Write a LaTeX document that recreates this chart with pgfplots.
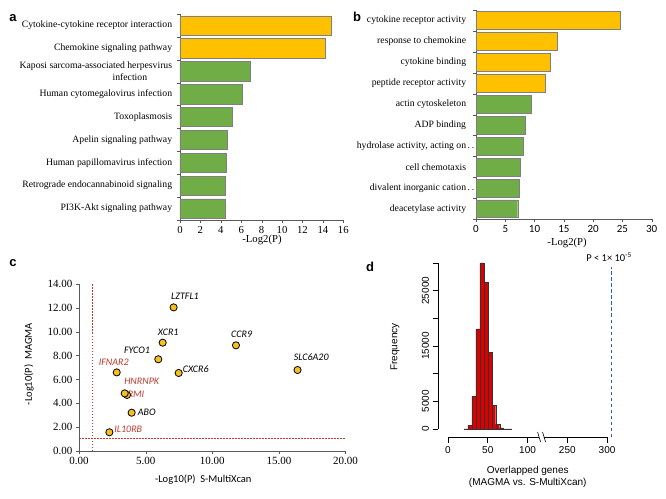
\documentclass[border=0pt]{standalone}
\usepackage{pgfplots}
\pgfplotsset{compat=1.18}
\usepackage{fontspec}
\setmainfont{Liberation Serif}
\newfontfamily\arial{Liberation Sans}
\newfontfamily\calibri{Carlito}
\definecolor{gold}{HTML}{FFC000}
\definecolor{grn}{HTML}{70AD47}
\definecolor{edge}{HTML}{7F7F7F}
\definecolor{dkred}{HTML}{C0392B}
\definecolor{ptfill}{HTML}{F5C01E}
\definecolor{histred}{HTML}{DD0000}
\definecolor{dblue}{HTML}{2563B0}
\begin{document}
\begin{tikzpicture}
% ---------- panel a ----------
\begin{axis}[
  at={(180pt,278pt)}, anchor=south west, scale only axis,
  width=163.3pt, height=206pt,
  xbar, bar width=19.3pt,
  xmin=0, xmax=16, ymin=0.5, ymax=9.5,
  axis x line=bottom, axis y line=left,
  axis line style={-, black!65},
  tick align=outside, major tick length=2.7pt, minor tick length=2.7pt,
  tick style={black!65},
  xtick={0,2,...,16},
  ytick={1,...,9}, major y tick style={draw=none},
  minor ytick={0.5,1.5,...,9.5},
  yticklabels={PI3K-Akt signaling pathway, Retrograde endocannabinoid signaling, Human papillomavirus infection, Apelin signaling pathway, Toxoplasmosis, Human cytomegalovirus infection, {Kaposi sarcoma-associated herpesvirus\\infection\hspace*{25pt}}, Chemokine signaling pathway, Cytokine-cytokine receptor interaction},
  yticklabel style={align=right, font=\fontsize{9.7}{11.7}\selectfont, inner sep=0pt, xshift=-5pt},
  xticklabel style={font=\fontsize{10.7}{12}\selectfont},
  /pgf/number format/assume math mode=true,
  xlabel={-Log2(P)},
  xlabel style={font=\fontsize{10.7}{12}\selectfont, at={(rel axis cs:0.502,-0.097)}, anchor=center},
  clip=false,
]
\addplot[fill=gold, draw=edge, bar shift=0pt] coordinates {(14.8,9) (14.2,8)};
\addplot[fill=grn, draw=edge, bar shift=0pt] coordinates {(6.86,7) (6.14,6) (5.16,5) (4.67,4) (4.57,3) (4.47,2) (4.45,1)};
\end{axis}
% ---------- panel b ----------
\begin{axis}[
  at={(476pt,278.7pt)}, anchor=south west, scale only axis,
  width=175.7pt, height=209.3pt,
  xbar, bar width=17.7pt,
  xmin=0, xmax=30, ymin=0.5, ymax=10.5,
  axis x line=bottom, axis y line=left,
  axis line style={-, black!65},
  tick align=outside, major tick length=2.7pt, minor tick length=2.7pt,
  tick style={black!65},
  xtick={0,5,...,30},
  ytick={1,...,10}, major y tick style={draw=none},
  minor ytick={0.5,1.5,...,10.5},
  yticklabels={deacetylase activity, divalent inorganic cation\rlap{\,.\,.}, cell chemotaxis, hydrolase activity{,} acting on\rlap{\,.\,.}, ADP binding, actin cytoskeleton, peptide receptor activity, cytokine binding, response to chemokine, cytokine receptor activity},
  yticklabel style={align=right, font=\fontsize{9.7}{11.7}\selectfont, inner sep=0pt, xshift=-7pt},
  xticklabel style={font=\calibri\fontsize{11}{12}\selectfont},
  /pgf/number format/assume math mode=true,
  xlabel={-Log2(P)},
  xlabel style={font=\fontsize{10.7}{12}\selectfont, at={(rel axis cs:0.5185,-0.114)}, anchor=center},
  clip=false,
]
\addplot[fill=gold, draw=edge, bar shift=0pt] coordinates {(24.7,10) (13.8,9) (12.75,8) (11.8,7)};
\addplot[fill=grn, draw=edge, bar shift=0pt] coordinates {(9.5,6) (8.37,5) (8.08,4) (7.63,3) (7.34,2) (7.12,1)};
\end{axis}
% ---------- panel c ----------
\begin{axis}[
  at={(79pt,47pt)}, anchor=south west, scale only axis,
  width=266.5pt, height=167pt,
  xmin=0, xmax=20, ymin=0, ymax=14,
  axis x line=bottom, axis y line=left,
  axis line style={-, black!65},
  tick align=outside, major tick length=3pt, tick style={black!65},
  xtick={0,5,...,20}, ytick={0,2,...,14},
  xticklabel={\pgfmathprintnumber[fixed,fixed zerofill,precision=2]{\tick}},
  yticklabel={\pgfmathprintnumber[fixed,fixed zerofill,precision=2]{\tick}},
  ticklabel style={font=\fontsize{11}{13}\selectfont},
  /pgf/number format/assume math mode=true,
  xlabel={-Log10(P)\ \ S-MultiXcan},
  ylabel={-Log10(P)\ \ MAGMA},
  xlabel style={font=\calibri\fontsize{10.5}{12}\selectfont, at={(rel axis cs:0.4664,-0.1737)}, anchor=center},
  ylabel style={font=\calibri\fontsize{10.5}{12}\selectfont, at={(rel axis cs:-0.1876,0.52)}, anchor=center},
  clip=false,
]
\addplot[dkred, dash pattern=on 1.5pt off 1.5pt, line width=0.6pt] coordinates {(1,0) (1,14)};
\addplot[dkred, dash pattern=on 1.5pt off 1.5pt, line width=0.6pt] coordinates {(0,1.1) (20,1.1)};
\addplot[only marks, mark=*, mark size=3.6pt, mark options={fill=ptfill, draw=black, line width=0.8pt}] coordinates {
(7.1,12.04) (6.28,9.08) (11.78,8.86) (5.95,7.69) (16.4,6.79) (2.83,6.59) (7.48,6.54) (3.6,4.7) (3.43,4.83) (3.95,3.21) (2.28,1.57)};
\begin{scope}[every node/.style={font=\calibri\itshape\fontsize{10}{12}\selectfont, inner sep=0pt}]
\node at (axis cs:7.955,12.99) {LZTFL1};
\node at (axis cs:6.694,9.975) {XCR1};
\node at (axis cs:12.21,9.807) {CCR9};
\node at (axis cs:4.353,8.466) {FYCO1};
\node at (axis cs:17.43,7.854) {SLC6A20};
\node[text=dkred] at (axis cs:2.612,7.46) {IFNAR2};
\node at (axis cs:8.765,6.899) {CXCR6};
\node[text=dkred] at (axis cs:4.706,5.809) {HNRNPK};
\node[text=dkred] at (axis cs:4.278,4.753) {RMI};
\node at (axis cs:5.081,3.21) {ABO};
\node[text=dkred] at (axis cs:3.70,1.844) {IL10RB};
\end{scope}
\end{axis}
% ---------- panel d ----------
\begin{axis}[
  at={(438pt,61pt)}, anchor=south west, scale only axis,
  width=177pt, height=174pt,
  xmin=-12.6, xmax=210, ymin=-1446, ymax=30000,
  axis x line=bottom, axis y line=left,
  axis line style={draw=none},
  tick align=outside, major tick length=5.5pt, tick style={black, line width=0.6pt},
  xtick={0,50,100,150,200}, xticklabels={0,50,100,250,300},
  ytick={0,5000,10000,15000,20000,25000,30000},
  yticklabels={0,5000,,15000,,25000,},
  scaled y ticks=false,
  ticklabel style={font=\arial\fontsize{10}{12}\selectfont},
  yticklabel style={rotate=90, anchor=south},
  /pgf/number format/assume math mode=true,
  xlabel={Overlapped genes\\(MAGMA vs. S-MultiXcan)},
  ylabel={Frequency},
  xlabel style={font=\arial\fontsize{10}{12.6}\selectfont, align=center, at={(rel axis cs:0.507,-0.23)}, anchor=center},
  ylabel style={font=\arial\fontsize{10}{12}\selectfont, at={(rel axis cs:-0.243,0.517)}, anchor=center},
  clip=false,
]
\addplot[ybar interval, fill=histred, draw=black!80, line width=0.4pt] coordinates {
(20,30) (25,700) (30,5900) (35,18100) (40,30000) (45,26500) (50,13900) (55,4300) (60,850) (65,200) (70,40) (75,15) (80,0)};
\addplot[dblue, dash pattern=on 3.5pt off 2.5pt, line width=1pt] coordinates {(206,-1446) (206,29277)};
\draw[line width=0.6pt] (axis cs:-12.6,0) -- (axis cs:-12.6,30000);
\draw[line width=0.6pt] (axis cs:0,-1446) -- (axis cs:114.5,-1446);
\draw[line width=0.6pt] (axis cs:120.8,-1446) -- (axis cs:200,-1446);
\draw[line width=0.6pt] ([xshift=-1.5pt,yshift=5pt]axis cs:114.5,-1446) -- ([xshift=1.5pt,yshift=-5pt]axis cs:114.5,-1446);
\draw[line width=0.6pt] ([xshift=-1.5pt,yshift=5pt]axis cs:120.8,-1446) -- ([xshift=1.5pt,yshift=-5pt]axis cs:120.8,-1446);
\node[font=\calibri\fontsize{10.5}{12}\selectfont] at (axis cs:202.5,31085) {P < 1× 10\textsuperscript{-5}};
\end{axis}
% ---------- panel letters ----------
\begin{scope}[every node/.style={font=\arial\bfseries\fontsize{13}{15}\selectfont, inner sep=0pt}]
\node at (13pt,480pt) {a};
\node at (357pt,481pt) {b};
\node at (13pt,235pt) {c};
\node at (370pt,231pt) {d};
\end{scope}
\pgfresetboundingbox
\useasboundingbox (0pt,0pt) rectangle (666pt,498pt);
\end{tikzpicture}
\end{document}
